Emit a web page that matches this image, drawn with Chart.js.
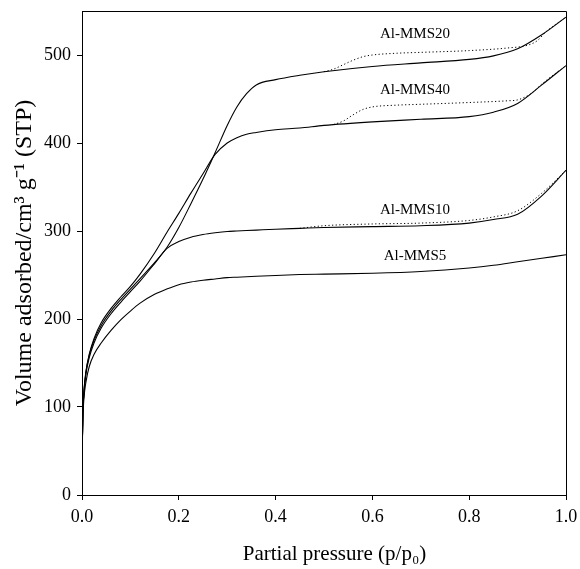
<!DOCTYPE html>
<html>
<head>
<meta charset="utf-8">
<script src="https://cdn.jsdelivr.net/npm/chart.js@4.4.1/dist/chart.umd.min.js"></script>
<style>
  html, body { margin: 0; padding: 0; background: #fff; }
  #wrap { width: 580px; height: 569px; }
</style>
</head>
<body>
<div id="wrap"><canvas id="c" width="580" height="569"></canvas></div>
<script>
// Adsorption branch (solid) — shared relative-pressure grid
const pAds = [0, 0.002, 0.004, 0.008, 0.015, 0.025, 0.04, 0.06, 0.08, 0.1, 0.12, 0.15, 0.175, 0.2, 0.225, 0.25, 0.275, 0.3, 0.32, 0.34, 0.36, 0.4, 0.45, 0.5, 0.6, 0.7, 0.8, 0.85, 0.9, 0.95, 1.0];
const adsMMS5  = [40, 90, 110, 128, 146, 160, 173, 187, 199, 209, 218, 228, 234, 239, 242, 244, 245.5, 247, 247.5, 248, 248.5, 249.5, 250.5, 251, 252, 254, 258, 261, 265, 269, 273];
const adsMMS10 = [40, 95, 116, 137, 156, 173, 190, 206, 219, 231, 243, 263, 280, 288, 293, 296, 298, 299.5, 300, 300.5, 301, 302, 303, 304, 305, 306, 309, 313, 319, 340, 369];
const adsMMS20 = [40, 95, 117, 139, 159, 176, 193, 209, 222, 234, 246, 264, 281, 304, 331, 359, 389, 420, 441, 456, 466, 472, 477, 481, 487, 491, 495, 499, 507, 523, 543];
const adsMMS40 = [40, 95, 118, 140, 160, 178, 196, 212, 225, 237, 251, 275, 298, 320, 343, 365, 387, 400, 406, 410, 412, 415, 417, 420, 424, 427, 430, 435, 445, 466, 488];

// Desorption branches (dotted)
const pDesMMS10 = [0.45, 0.5, 0.6, 0.7, 0.8, 0.85, 0.9, 0.95, 1.0];
const desMMS10  = [303, 306, 308, 309, 312, 316, 323, 343, 369];
const pDesMMS20 = [0.5, 0.52, 0.54, 0.56, 0.58, 0.6, 0.65, 0.7, 0.8, 0.88, 0.92, 0.94, 0.96, 1.0];
const desMMS20  = [481, 484, 489, 494, 498, 500, 502, 503, 505, 508, 511, 516, 527, 543];
const pDesMMS40 = [0.52, 0.54, 0.56, 0.58, 0.6, 0.65, 0.7, 0.8, 0.88, 0.9, 0.93, 0.95, 1.0];
const desMMS40  = [421, 425, 432, 438, 441, 443, 444, 446, 448, 449, 457, 467, 488];

// Axis ticks
const xTicks = [0, 0.2, 0.4, 0.6, 0.8, 1.0];
const yTicks = [0, 100, 200, 300, 400, 500];

// Curve labels (text, relative pressure, volume)
const labelTexts = ['Al-MMS20', 'Al-MMS40', 'Al-MMS10', 'Al-MMS5'];
const labelP = [0.688, 0.688, 0.688, 0.688];
const labelV = [524, 460, 324, 271];

function pts(xs, ys) { return xs.map((x, i) => ({ x: x, y: ys[i] })); }

const SERIF = '"Liberation Serif", "Times New Roman", serif';

function solid(label, data) {
  return { label, data, borderColor: '#000', borderWidth: 1.1, pointRadius: 0, fill: false,
           cubicInterpolationMode: 'monotone' };
}
function dotted(label, data) {
  return { label, data, borderColor: '#000', borderWidth: 1, borderDash: [1.2, 2.4], pointRadius: 0,
           fill: false, cubicInterpolationMode: 'monotone' };
}

const framePlugin = {
  id: 'frame',
  afterDraw(chart) {
    const { ctx, chartArea: a } = chart;
    ctx.save();
    ctx.strokeStyle = '#000';
    ctx.lineWidth = 1;
    ctx.beginPath();
    ctx.moveTo(a.left, a.top + 0.5);
    ctx.lineTo(a.right + 0.5, a.top + 0.5);
    ctx.lineTo(a.right + 0.5, a.bottom);
    ctx.stroke();
    ctx.restore();
  }
};

const labelPlugin = {
  id: 'curveLabels',
  afterDatasetsDraw(chart) {
    const { ctx, scales } = chart;
    ctx.save();
    ctx.fillStyle = '#000';
    ctx.font = '15px ' + SERIF;
    ctx.textAlign = 'center';
    ctx.textBaseline = 'middle';
    labelTexts.forEach((t, i) => {
      ctx.fillText(t, scales.x.getPixelForValue(labelP[i]), scales.y.getPixelForValue(labelV[i]));
    });
    ctx.restore();
  }
};

new Chart(document.getElementById('c'), {
  type: 'line',
  data: {
    datasets: [
      solid('Al-MMS5', pts(pAds, adsMMS5)),
      solid('Al-MMS10', pts(pAds, adsMMS10)),
      solid('Al-MMS20', pts(pAds, adsMMS20)),
      solid('Al-MMS40', pts(pAds, adsMMS40)),
      dotted('Al-MMS10 desorption', pts(pDesMMS10, desMMS10)),
      dotted('Al-MMS20 desorption', pts(pDesMMS20, desMMS20)),
      dotted('Al-MMS40 desorption', pts(pDesMMS40, desMMS40))
    ]
  },
  options: {
    responsive: false,
    animation: false,
    devicePixelRatio: 1,
    layout: { padding: { left: 0, right: 14, top: 11, bottom: 0 } },
    plugins: { legend: { display: false }, tooltip: { enabled: false } },
    scales: {
      x: {
        type: 'linear', min: 0, max: 1,
        afterBuildTicks(scale) { scale.ticks = xTicks.map(v => ({ value: v })); },
        afterFit(scale) { scale.height = 74; scale.paddingLeft = 0; scale.paddingRight = 0; },
        ticks: { color: '#000', font: { family: SERIF, size: 18 }, padding: 6,
                 callback: v => Number(v).toFixed(1) },
        grid: { drawOnChartArea: false, drawTicks: true, tickLength: 5, color: '#000' },
        border: { display: true, color: '#000', width: 1 },
        title: { display: true, text: '\u2003Partial pressure (p/p₀)', color: '#000',
                 font: { family: SERIF, size: 21 }, padding: { top: 0, bottom: 2 } }
      },
      y: {
        type: 'linear', min: 0, max: 550,
        afterBuildTicks(scale) { scale.ticks = yTicks.map(v => ({ value: v })); },
        afterFit(scale) { scale.width = 82; scale.paddingTop = 0; scale.paddingBottom = 0; },
        ticks: { color: '#000', font: { family: SERIF, size: 18 }, padding: 6 },
        grid: { drawOnChartArea: false, drawTicks: true, tickLength: 5, color: '#000' },
        border: { display: true, color: '#000', width: 1 },
        title: { display: true, text: 'Volume adsorbed/cm³ g⁻¹ (STP)', color: '#000',
                 font: { family: SERIF, size: 24 }, padding: { top: 10, bottom: 0 } }
      }
    }
  },
  plugins: [framePlugin, labelPlugin]
});
</script>
</body>
</html>
